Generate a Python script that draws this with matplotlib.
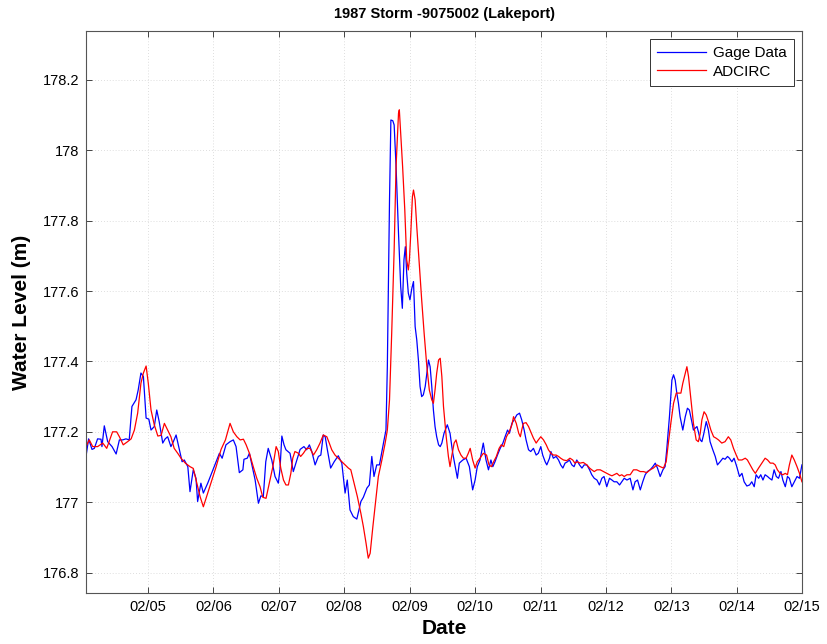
import numpy as np
import pandas as pd
import matplotlib
matplotlib.use("Agg")
import matplotlib.pyplot as plt
import matplotlib.dates as mdates

plt.rcParams['font.family'] = ['Liberation Sans', 'DejaVu Sans']

t0 = pd.Timestamp("1987-02-04 00:00")

# gage record: hours after t0, water level (m)
gage_hours = [
    1.25, 2.2, 3.45, 4.3, 5.5, 6.75, 7.1, 7.96, 9.2, 10.8, 12.3, 13.5, 14.7, 15.9, 17.1,
    18.1, 19.6, 20.4, 21.4, 22.3, 23.3, 24.3, 25.1, 26.3, 27.2, 28.1, 29.4, 30.3, 31.2,
    32.4, 33.3, 34.3, 35.5, 36.5, 37.3, 38.6, 39.4, 40.6, 41.6, 42.2, 43.4, 44.3, 45.9,
    48.3, 50.2, 51.2, 52.6, 54.1, 55.3, 56.3, 57.5, 58.8, 59.2, 60.4, 61.2, 62.1, 63.3,
    64.5, 65.4, 66.3, 67.2, 68.1, 69.4, 70.6, 71.8, 72.4, 73.1, 73.9, 74.6, 76.1, 77.3,
    78.6, 79.8, 81.2, 82.2, 83.2, 84.1, 85.3, 86.5, 87.4, 88.3, 89.0, 89.8, 91.0, 92.3,
    93.8, 95.1, 96.3, 97.1, 98.1, 99.3, 100.6, 102.1, 103.0, 104.3, 105.2, 106.1, 106.9,
    107.9, 108.9, 109.8, 110.6, 111.3, 111.8, 112.6, 113.1, 113.8, 114.3, 115.0, 115.9,
    116.7, 117.3, 117.9, 118.4, 118.9, 119.5, 120.1, 120.8, 121.4, 122.0, 122.6, 123.2,
    123.8, 124.4, 125.0, 125.7, 126.3, 126.9, 127.5, 128.1, 128.7, 129.3, 129.9, 130.6,
    131.2, 131.8, 132.6, 133.8, 134.8, 135.8, 136.7, 137.5, 138.2, 139.5, 140.7, 141.9,
    143.1, 144.0, 144.8, 145.8, 147.0, 148.0, 148.9, 149.8, 150.5, 151.3, 152.2, 153.2,
    154.2, 155.0, 155.9, 156.6, 157.5, 158.3, 159.3, 160.3, 161.1, 162.0, 162.7, 163.6,
    164.4, 165.4, 166.4, 167.2, 168.1, 168.8, 169.7, 170.3, 171.3, 171.8, 172.7, 173.7,
    174.6, 175.4, 176.2, 177.0, 177.9, 178.6, 179.5, 180.3, 181.3, 182.3, 183.2, 184.0,
    185.0, 186.0, 186.8, 187.7, 188.7, 189.6, 190.5, 191.3, 192.3, 193.3, 194.2, 195.0,
    196.0, 197.0, 197.8, 198.7, 199.7, 200.9, 201.9, 202.7, 203.6, 204.6, 205.5, 206.4,
    207.2, 208.2, 209.2, 210.1, 210.9, 211.9, 212.9, 213.7, 214.3, 215.3, 216.2, 216.8,
    217.4, 218.0, 218.6, 219.2, 220.2, 221.1, 221.9, 222.6, 223.5, 224.1, 224.7, 225.4,
    225.9, 226.6, 227.2, 227.8, 228.8, 229.6, 230.2, 231.2, 232.1, 232.9, 233.9, 234.9,
    235.7, 236.6, 237.3, 238.2, 239.0, 240.0, 241.0, 241.9, 242.7, 243.7, 244.7, 245.5,
    246.4, 247.1, 248.0, 248.8, 249.6, 250.4, 251.3, 252.0, 252.9, 253.7, 254.5, 255.3,
    256.2, 256.9, 257.8, 258.6, 259.3, 260.2, 261.1, 262.1, 263.0, 263.9,
]
gage_level = [
    177.13, 177.18, 177.15, 177.153, 177.18, 177.179, 177.158, 177.217, 177.172, 177.158,
    177.137, 177.177, 177.177, 177.18, 177.177, 177.272, 177.291, 177.319, 177.367, 177.357,
    177.239, 177.236, 177.205, 177.215, 177.262, 177.229, 177.168, 177.18, 177.186, 177.158,
    177.172, 177.191, 177.15, 177.115, 177.12, 177.101, 177.03, 177.092, 177.068, 177.002,
    177.054, 177.026, 177.054, 177.101, 177.139, 177.125, 177.163, 177.172, 177.177, 177.158,
    177.084, 177.092, 177.122, 177.125, 177.139, 177.106, 177.063, 176.997, 177.018, 177.016,
    177.115, 177.153, 177.12, 177.073, 177.054, 177.092, 177.188, 177.163, 177.149, 177.139,
    177.087, 177.12, 177.15, 177.158, 177.149, 177.163, 177.144, 177.106, 177.13, 177.134,
    177.191, 177.186, 177.149, 177.097, 177.115, 177.132, 177.111, 177.026, 177.063, 176.978,
    176.959, 176.952, 177.002, 177.014, 177.04, 177.049, 177.13, 177.073, 177.106, 177.106,
    177.144, 177.177, 177.205, 177.385, 177.859, 178.086, 178.084, 178.072, 177.954, 177.764,
    177.613, 177.551, 177.689, 177.726, 177.651, 177.594, 177.575, 177.608, 177.627, 177.499,
    177.461, 177.404, 177.329, 177.30, 177.305, 177.329, 177.366, 177.404, 177.385, 177.329,
    177.262, 177.215, 177.186, 177.163, 177.158, 177.168, 177.196, 177.22, 177.196, 177.139,
    177.101, 177.068, 177.111, 177.12, 177.125, 177.101, 177.035, 177.063, 177.101, 177.12,
    177.168, 177.12, 177.092, 177.12, 177.101, 177.115, 177.134, 177.153, 177.168, 177.186,
    177.205, 177.196, 177.224, 177.234, 177.248, 177.253, 177.234, 177.205, 177.177, 177.149,
    177.144, 177.153, 177.134, 177.139, 177.158, 177.134, 177.115, 177.106, 177.125, 177.144,
    177.125, 177.13, 177.12, 177.106, 177.097, 177.111, 177.115, 177.12, 177.106, 177.101,
    177.12, 177.106, 177.097, 177.106, 177.106, 177.092, 177.078, 177.068, 177.063, 177.049,
    177.068, 177.073, 177.044, 177.068, 177.063, 177.058, 177.058, 177.049, 177.058, 177.068,
    177.063, 177.068, 177.035, 177.058, 177.063, 177.035, 177.058, 177.078, 177.087, 177.092,
    177.101, 177.111, 177.097, 177.073, 177.092, 177.101, 177.149, 177.243, 177.347, 177.362,
    177.347, 177.31, 177.281, 177.243, 177.205, 177.243, 177.267, 177.262, 177.229, 177.205,
    177.21, 177.215, 177.2006, 177.177, 177.172, 177.191, 177.229, 177.205, 177.172, 177.149,
    177.13, 177.106, 177.115, 177.125, 177.122, 177.13, 177.125, 177.115, 177.125, 177.101,
    177.073, 177.082, 177.058, 177.046, 177.049, 177.058, 177.044, 177.078, 177.068, 177.078,
    177.063, 177.078, 177.073, 177.068, 177.063, 177.092, 177.073, 177.068, 177.087, 177.063,
    177.044, 177.073, 177.068, 177.044, 177.058, 177.073, 177.068, 177.106,
]

# ADCIRC model output
model_hours = [
    1.25, 2.45, 3.7, 5.5, 7.4, 8.85, 11.0, 12.5, 13.5, 14.9, 16.5, 17.8, 19.0, 20.2, 21.4,
    22.3, 23.3, 24.1, 25.1, 26.3, 27.6, 28.8, 30.0, 31.2, 32.4, 33.6, 34.9, 36.1, 37.7,
    39.4, 40.6, 41.9, 43.1, 44.3, 45.5, 47.1, 49.0, 50.8, 52.4, 54.1, 55.3, 56.6, 57.8,
    59.0, 60.0, 61.2, 62.6, 63.9, 65.1, 66.1, 67.3, 68.5, 69.8, 71.0, 71.8, 72.7, 73.7,
    74.6, 75.5, 76.4, 77.1, 77.9, 79.2, 80.0, 81.0, 82.2, 83.4, 84.7, 85.9, 87.1, 88.3,
    89.6, 90.5, 91.4, 92.6, 93.8, 95.1, 96.3, 97.5, 98.4, 99.6, 100.8, 102.1, 103.0, 104.0,
    104.8, 105.5, 106.5, 107.7, 108.5, 109.8, 111.0, 111.8, 112.6, 113.4, 114.3, 115.0,
    115.9, 116.2, 116.7, 117.4, 118.2, 118.9, 119.5, 119.9, 120.4, 121.0, 121.4, 122.0,
    122.6, 123.6, 124.4, 125.3, 126.3, 127.2, 128.1, 128.7, 129.3, 129.9, 130.6, 131.2,
    131.8, 132.4, 133.4, 134.2, 134.8, 135.4, 136.3, 137.0, 137.9, 138.8, 139.7, 140.7,
    141.5, 142.2, 143.1, 144.0, 144.8, 145.8, 147.0, 148.2, 149.1, 150.0, 150.8, 151.8,
    152.8, 153.6, 154.5, 155.5, 156.5, 157.5, 158.1, 159.1, 160.0, 160.6, 161.1, 161.7,
    162.7, 163.6, 164.4, 165.4, 166.4, 167.2, 168.1, 169.1, 170.1, 170.9, 171.8, 172.7,
    173.7, 174.6, 175.4, 176.4, 177.6, 178.8, 179.8, 180.6, 181.5, 182.5, 183.7, 185.0,
    186.0, 186.8, 187.7, 188.7, 189.9, 191.1, 192.3, 193.3, 194.2, 195.0, 196.0, 197.0,
    197.8, 198.7, 199.7, 200.9, 202.1, 203.3, 204.6, 205.8, 207.0, 208.2, 209.4, 210.7,
    211.9, 213.1, 214.1, 214.9, 215.8, 216.8, 217.8, 218.6, 219.5, 220.2, 221.1, 221.7,
    222.3, 223.2, 224.1, 225.1, 225.9, 226.6, 227.2, 228.0, 228.8, 229.6, 230.5, 231.5,
    232.4, 233.3, 234.5, 235.7, 236.9, 237.8, 238.8, 239.8, 240.6, 241.9, 243.1, 243.9,
    244.9, 245.9, 246.8, 248.0, 249.2, 250.4, 251.3, 252.3, 253.3, 254.1, 254.9, 255.9,
    256.9, 257.8, 258.6, 259.3, 260.2, 261.1, 262.1, 263.0, 263.9,
]
model_level = [
    177.158, 177.177, 177.158, 177.158, 177.168, 177.153, 177.2, 177.2, 177.186, 177.163,
    177.172, 177.18, 177.205, 177.253, 177.338, 177.367, 177.387, 177.338, 177.262, 177.22,
    177.188, 177.19, 177.224, 177.205, 177.186, 177.153, 177.139, 177.125, 177.111, 177.101,
    177.096, 177.054, 177.016, 176.987, 177.016, 177.054, 177.101, 177.15, 177.177, 177.224,
    177.2, 177.186, 177.177, 177.179, 177.163, 177.139, 177.101, 177.068, 177.044, 177.014,
    177.011, 177.054, 177.101, 177.158, 177.144, 177.097, 177.063, 177.049, 177.049, 177.082,
    177.125, 177.144, 177.139, 177.13, 177.139, 177.153, 177.153, 177.134, 177.149, 177.168,
    177.191, 177.186, 177.168, 177.149, 177.134, 177.125, 177.115, 177.106, 177.097, 177.092,
    177.054, 177.016, 176.968, 176.931, 176.883, 176.841, 176.855, 176.931, 177.016, 177.073,
    177.12, 177.168, 177.205, 177.291, 177.48, 177.717, 177.954, 178.105, 178.115, 178.048,
    177.954, 177.831, 177.689, 177.66, 177.689, 177.764, 177.868, 177.887, 177.859, 177.783,
    177.669, 177.575, 177.48, 177.385, 177.319, 177.291, 177.281, 177.319, 177.366, 177.404,
    177.409, 177.357, 177.272, 177.186, 177.13, 177.101, 177.13, 177.168, 177.177, 177.149,
    177.134, 177.125, 177.125, 177.139, 177.153, 177.12, 177.097, 177.115, 177.125, 177.139,
    177.134, 177.106, 177.101, 177.115, 177.13, 177.153, 177.163, 177.158, 177.186, 177.2,
    177.22, 177.243, 177.224, 177.196, 177.186, 177.205, 177.224, 177.226, 177.215, 177.2,
    177.182, 177.168, 177.177, 177.186, 177.177, 177.163, 177.149, 177.139, 177.134, 177.134,
    177.13, 177.125, 177.12, 177.118, 177.125, 177.12, 177.111, 177.115, 177.111, 177.113,
    177.106, 177.097, 177.092, 177.087, 177.092, 177.092, 177.087, 177.082, 177.078, 177.075,
    177.078, 177.082, 177.075, 177.078, 177.073, 177.078, 177.078, 177.092, 177.092, 177.087,
    177.087, 177.084, 177.092, 177.097, 177.106, 177.101, 177.097, 177.115, 177.168, 177.224,
    177.281, 177.31, 177.31, 177.31, 177.338, 177.366, 177.385, 177.357, 177.291, 177.224,
    177.177, 177.172, 177.196, 177.234, 177.257, 177.248, 177.229, 177.205, 177.186, 177.182,
    177.177, 177.168, 177.172, 177.186, 177.177, 177.153, 177.134, 177.12, 177.12, 177.125,
    177.12, 177.106, 177.092, 177.082, 177.097, 177.111, 177.125, 177.12, 177.111, 177.111,
    177.106, 177.092, 177.082, 177.078, 177.082, 177.078, 177.106, 177.134, 177.12, 177.101,
    177.082, 177.058,
]

tick_days = pd.date_range("1987-02-05", "1987-02-15", freq="D")

gage_time = t0 + pd.to_timedelta(gage_hours, unit="h")
model_time = t0 + pd.to_timedelta(model_hours, unit="h")

fig = plt.figure(figsize=(8.27, 6.44), dpi=100)
ax = fig.add_axes([0.104, 0.0792, 0.866, 0.8727])

ax.plot(gage_time, gage_level, color=(0, 0, 1), lw=0.9, label="Gage Data")
ax.plot(model_time, model_level, color=(1, 0, 0), lw=0.9, label="ADCIRC")

ax.set_xlim(t0 + pd.Timedelta(hours=1.25), pd.Timestamp("1987-02-15"))
ax.set_ylim(176.742, 178.339)
ax.set_xticks(tick_days)
ax.xaxis.set_major_formatter(mdates.DateFormatter("%m/%d"))
ax.set_yticks([176.8, 177.0, 177.2, 177.4, 177.6, 177.8, 178.0, 178.2])
ax.set_yticklabels(["176.8", "177", "177.2", "177.4", "177.6", "177.8", "178", "178.2"])

ax.grid(True, color="#d4d4d4", linestyle=(0, (1, 2.5)), linewidth=0.6)
ax.tick_params(direction="in", length=4, width=0.6, top=True, right=True,
               labelsize=10.5, pad=5, colors="#262626", labelcolor="black")
for sp in ax.spines.values():
    sp.set_color("#555555")
    sp.set_linewidth(0.8)

ax.set_title("1987 Storm -9075002 (Lakeport)", fontsize=10.5, fontweight="bold", pad=9)
ax.set_xlabel("Date", fontsize=15, fontweight="bold", labelpad=4)
ax.set_ylabel("Water Level (m)", fontsize=15, fontweight="bold", labelpad=8)

leg = ax.legend(loc="upper right", fontsize=11, fancybox=False, framealpha=1,
                edgecolor="#333333", handlelength=3.2, borderaxespad=0.55,
                borderpad=0.45, labelspacing=0.3, handletextpad=0.5)
leg.get_frame().set_linewidth(0.7)

fig.savefig("out.png", dpi=100)
